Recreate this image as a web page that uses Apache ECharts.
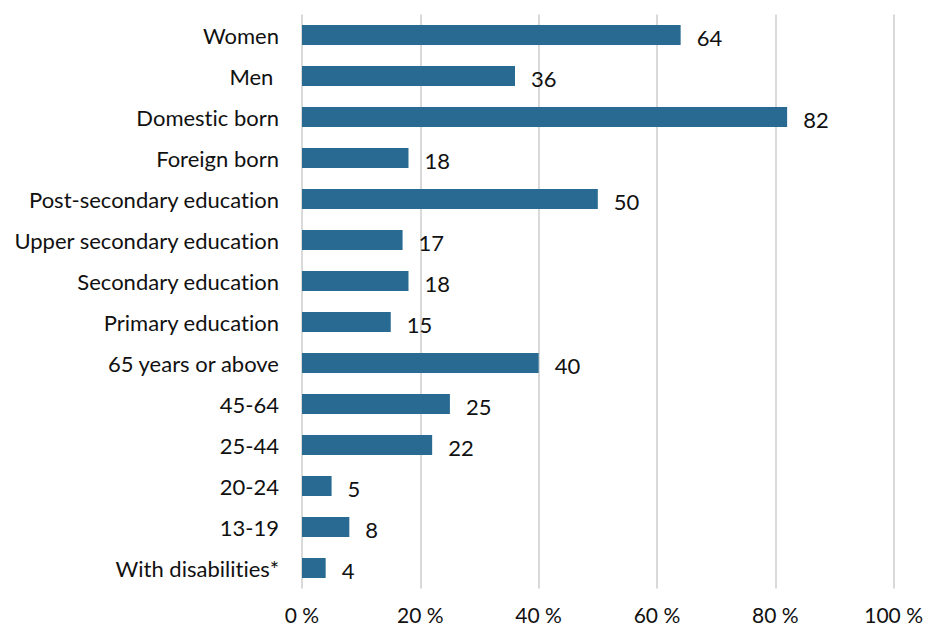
<!DOCTYPE html>
<html>
<head>
<meta charset="utf-8">
<script src="https://cdn.jsdelivr.net/npm/echarts@6/dist/echarts.min.js"></script>
<style>
  html, body { margin: 0; padding: 0; background: #ffffff; }
  #chart { width: 926px; height: 628px; }
  #chart text { font-variant-ligatures: none; }
</style>
</head>
<body>
<div id="chart"></div>
<script>
// Group labels, top to bottom
const categories = [
  'Women', 'Men ', 'Domestic born', 'Foreign born',
  'Post-secondary education', 'Upper secondary education',
  'Secondary education', 'Primary education',
  '65 years or above', '45-64', '25-44', '20-24', '13-19',
  'With disabilities*'
];
// Share in percent for each group
const shares = [64, 36, 82, 18, 50, 17, 18, 15, 40, 25, 22, 5, 8, 4];
// Percent axis ticks
const axisMin = 0;
const axisMax = 100;
const axisStep = 20;

const FONT = 'Lato, "Open Sans", sans-serif';
const TEXT = '#111111';
const SIZE = 22;

const chart = echarts.init(document.getElementById('chart'), null, { renderer: 'svg' });
chart.setOption({
  animation: false,
  backgroundColor: '#ffffff',
  grid: { left: 302, right: 31, top: 14.5, bottom: 39.5, containLabel: false },
  xAxis: {
    type: 'value',
    min: axisMin,
    max: axisMax,
    interval: axisStep,
    axisLine: { show: false },
    axisTick: { show: false },
    axisLabel: {
      formatter: v => v + ' %',
      color: TEXT,
      fontFamily: FONT,
      fontSize: 21,
      margin: 15
    },
    splitLine: { show: true, lineStyle: { color: '#d9d9d9', width: 2 } }
  },
  yAxis: {
    type: 'category',
    data: categories,
    inverse: true,
    axisLine: { show: false },
    axisTick: { show: false },
    axisLabel: {
      color: TEXT,
      fontFamily: FONT,
      fontSize: SIZE,
      margin: 23
    },
    splitLine: { show: false }
  },
  series: [{
    type: 'bar',
    data: shares,
    barWidth: 20,
    itemStyle: { color: '#286a92' },
    label: {
      show: true,
      position: 'right',
      distance: 16,
      offset: [0, 2],
      color: TEXT,
      fontFamily: FONT,
      fontSize: SIZE
    }
  }]
});
</script>
</body>
</html>
